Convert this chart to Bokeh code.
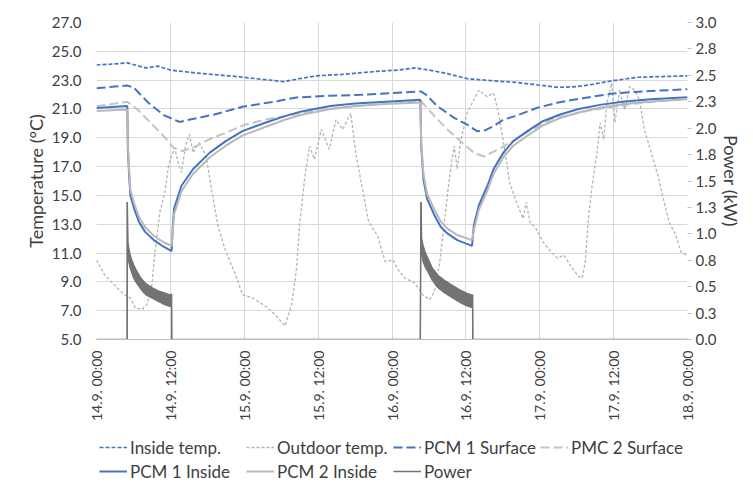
import math
from bokeh.plotting import figure
from bokeh.layouts import column
from bokeh.models import (Range1d, LinearAxis, FixedTicker, Legend, LegendItem,
                          PrintfTickFormatter)
from bokeh.embed import file_html
from bokeh.resources import INLINE

# ---------------- data (hours since 14.9. 00:00) ----------------
x_ticks = [0, 12, 24, 36, 48, 60, 72, 84, 96]
x_tick_labels = ["14.9. 00:00", "14.9. 12:00", "15.9. 00:00", "15.9. 12:00",
                 "16.9. 00:00", "16.9. 12:00", "17.9. 00:00", "17.9. 12:00",
                 "18.9. 00:00"]
temp_ticks = [5, 7, 9, 11, 13, 15, 17, 19, 21, 23, 25, 27]
power_ticks = [0, 0.25, 0.5, 0.75, 1.0, 1.25, 1.5, 1.75, 2.0, 2.25, 2.5, 2.75, 3.0]

series_names = ["Inside temp.", "Outdoor temp.", "PCM 1 Surface", "PMC 2 Surface",
                "PCM 1 Inside", "PCM 2 Inside", "Power"]

inside_h = [0, 2, 5, 8, 10, 12, 16, 20, 23, 27, 30.4, 33, 35.7, 40, 45.3, 49,
            51.7, 54, 57, 60.2, 64.5, 68, 71, 75, 78, 80, 83.7, 88, 92, 96]
inside_t = [24.05, 24.1, 24.2, 23.85, 23.97, 23.7, 23.5, 23.35, 23.24, 23.05, 22.9,
            23.1, 23.3, 23.4, 23.6, 23.7, 23.85, 23.7, 23.45, 23.1, 22.95, 22.85,
            22.7, 22.5, 22.55, 22.67, 22.95, 23.2, 23.25, 23.3]

outdoor_h = [0, 1.3, 2.9, 4.5, 5.5, 6.3, 7.4, 8.2, 9.0, 9.5, 10.3, 11.1, 11.7, 12.2,
             12.7, 13.3, 13.8, 14.5, 15.1, 15.7, 16.7, 17.8, 18.6, 19.7, 21, 22.6,
             23.7, 25.3, 27.4, 29, 30.6, 31.7, 32.5, 33, 33.8, 34.6, 35.4, 36.5,
             37.8, 38.9, 40, 41.3, 42.1, 43.2, 44.2, 45.6, 46.9, 48.2, 49, 50.1,
             51.7, 53, 54.1, 54.9, 55.7, 56.5, 57.3, 58.1, 58.6, 59.1, 60.2, 61.3,
             62.1, 63.4, 64.5, 65.3, 66.3, 67.1, 68.2, 69.3, 69.8, 70.4, 71.4, 72.5,
             73.8, 74.9, 75.9, 77.3, 78.3, 78.9, 79.4, 79.9, 80.5, 81.3, 81.8, 82.4,
             82.9, 83.7, 84.2, 85, 85.8, 86.6, 87.4, 88.2, 89, 90.1, 91.2, 92.2, 93,
             94.1, 94.9, 96]
outdoor_t = [10.52, 9.49, 8.8, 8.11, 7.89, 7.2, 7.08, 7.43, 8.8, 11.1, 13.85, 15.2,
             17.05, 17.74, 18.3, 17.2, 16.6, 18.5, 19.23, 17.97, 18.66, 17.74, 15.67,
             12.93, 11.1, 9.49, 8.11, 7.89, 7.32, 6.74, 5.94, 7.43, 9.95, 13.0, 16.14,
             18.43, 17.5, 19.58, 18.2, 20.26, 19.58, 20.72, 17.97, 15.45, 13.16,
             12.24, 10.41, 10.52, 9.83, 9.26, 8.92, 8.11, 7.77, 8.34, 10.18, 13.16,
             16.14, 18.43, 16.83, 18.66, 20.72, 21.64, 22.3, 21.86, 22.1, 20.72, 18.2,
             15.9, 14.54, 13.39, 14.54, 13.16, 12.7, 11.79, 11.1, 10.64, 10.86, 9.95,
             9.38, 9.26, 10.41, 13.39, 15.67, 17.97, 20.04, 18.89, 21.41, 22.79,
             20.04, 22.32, 20.95, 22.55, 22.32, 21.64, 19.58, 17.97, 16.37, 14.54,
             13.16, 12.24, 11.1, 10.8]

pcm1_surf_h = [0, 3, 5, 6, 8.5, 11, 13.5, 15, 19, 23.7, 29.5, 32.5, 38, 43, 48, 52.7,
               53.5, 55.4, 58.1, 60.2, 61.8, 63, 64.5, 66.1, 68, 71.5, 75, 79, 83.5,
               88, 96]
pcm1_surf_t = [22.44, 22.55, 22.62, 22.5, 21.4, 20.55, 20.1, 20.25, 20.6, 21.15,
               21.55, 21.8, 21.92, 21.98, 22.1, 22.22, 22.0, 21.18, 20.38, 19.92,
               19.46, 19.5, 19.8, 20.26, 20.5, 21.07, 21.45, 21.75, 22.05, 22.2, 22.37]

pcm2_surf_h = [0, 5, 6.7, 8.8, 10.9, 12.5, 14, 15.7, 18.3, 21, 24.2, 27.4, 30.6, 33.3,
               38, 45, 50, 52.7, 54.9, 57, 59.1, 61.3, 62.9, 64.7, 67.7, 69.8, 74, 80,
               88, 96]
pcm2_surf_t = [21.18, 21.5, 20.95, 20.04, 19.12, 18.32, 18.08, 18.32, 18.89, 19.35,
               19.92, 20.26, 20.5, 20.72, 21.0, 21.3, 21.45, 21.55, 20.5, 19.58,
               18.77, 17.97, 17.7, 18.08, 18.77, 19.35, 20.3, 20.9, 21.4, 21.7]

pcm1_in_h = [0, 5, 5.1, 5.3, 5.5, 6.1, 6.9, 7.9, 9.3, 10.9, 12.2, 12.4, 12.6, 13.8,
             15.7, 18.4, 21, 23.7, 27.4, 30.6, 33.3, 38, 42, 47, 52.6, 52.75, 53.1,
             53.7, 54.9, 55.9, 57, 58.6, 61, 61.3, 62.1, 63.5, 64.5, 66.1, 67.7, 70,
             72.5, 75.2, 78.3, 82, 85.8, 90, 96]
pcm1_in_t = [21.07, 21.2, 18.2, 16.4, 15.0, 14.1, 13.16, 12.47, 11.9, 11.44, 11.14,
             12.93, 14.08, 15.67, 16.83, 17.97, 18.77, 19.46, 20.04, 20.5, 20.83,
             21.2, 21.38, 21.5, 21.64, 18.43, 16.14, 14.76, 13.62, 12.82, 12.36,
             11.9, 11.5, 12.93, 14.3, 15.67, 16.83, 17.97, 18.77, 19.46, 20.15, 20.6,
             21.0, 21.3, 21.52, 21.68, 21.82]

pcm2_in_h = pcm1_in_h
pcm2_in_t = [20.85, 20.97, 18.5, 16.8, 15.4, 14.45, 13.5, 12.8, 12.2, 11.75, 11.5,
             12.6, 13.7, 15.3, 16.5, 17.65, 18.45, 19.15, 19.75, 20.25, 20.6, 21.0,
             21.2, 21.35, 21.45, 18.7, 16.5, 15.1, 14.0, 13.2, 12.7, 12.25, 11.9,
             12.6, 14.0, 15.35, 16.5, 17.65, 18.45, 19.15, 19.85, 20.35, 20.75, 21.1,
             21.35, 21.52, 21.68]

power_h = [0, 4.98, 5.0, 5.1, 5.3, 5.6, 6.0, 6.5, 7.0, 7.5, 8.0, 9.0, 10.0, 11.0,
           12.0, 12.2, 12.22, 52.6, 52.7, 52.8, 53.0, 53.4, 53.8, 54.5, 55.4, 56.5,
           57.6, 59.0, 60.0, 61.0, 61.1, 61.12, 96]
power_kw_high = [0, 0, 1.30, 0.92, 0.84, 0.77, 0.71, 0.65, 0.60, 0.56, 0.53, 0.49,
                 0.46, 0.44, 0.42, 0.43, 0, 0, 1.30, 0.96, 0.90, 0.82, 0.77, 0.68,
                 0.61, 0.56, 0.52, 0.47, 0.44, 0.42, 0.42, 0, 0]
power_kw_low = [0, 0, 1.30, 0.78, 0.71, 0.65, 0.58, 0.53, 0.49, 0.45, 0.42, 0.39,
                0.36, 0.33, 0.31, 0.32, 0, 0, 1.30, 0.80, 0.74, 0.68, 0.64, 0.56,
                0.49, 0.44, 0.40, 0.35, 0.32, 0.30, 0.30, 0, 0]

series_x = [inside_h, outdoor_h, pcm1_surf_h, pcm2_surf_h, pcm1_in_h, pcm2_in_h, power_h]
series_y = [inside_t, outdoor_t, pcm1_surf_t, pcm2_surf_t, pcm1_in_t, pcm2_in_t,
            power_kw_high]

# ---------------- styles ----------------
FONT = "Lato"
TXT = "#404040"
BLUE = "#4472C4"
GRID = "#D9D9D9"
PWR = "#737373"
styles = [
    dict(line_color=BLUE, line_width=1.7, line_dash="4 2"),
    dict(line_color="#B4B4B4", line_width=1.3, line_dash="3 2"),
    dict(line_color=BLUE, line_width=2, line_dash="9 4"),
    dict(line_color="#C4C4C4", line_width=2, line_dash="9 4"),
    dict(line_color=BLUE, line_width=2),
    dict(line_color="#B8B8B8", line_width=2),
    dict(line_color=PWR, line_width=1.5),
]

p = figure(width=745, height=424, output_backend="svg", toolbar_location=None,
           x_range=Range1d(0, 96), y_range=Range1d(5, 27),
           min_border_left=96, min_border_right=48, min_border_top=22,
           min_border_bottom=82)
p.outline_line_color = None
p.background_fill_color = "white"
p.border_fill_color = "white"
p.extra_y_ranges = {"power": Range1d(0, 3)}

p.xgrid.ticker = FixedTicker(ticks=x_ticks)
p.ygrid.ticker = FixedTicker(ticks=temp_ticks)
p.grid.grid_line_color = GRID
p.grid.grid_line_width = 1

# x axis
xa = p.xaxis[0]
xa.ticker = FixedTicker(ticks=x_ticks)
xa.major_label_overrides = {t: l for t, l in zip(x_ticks, x_tick_labels)}
xa.major_label_orientation = math.pi / 2
xa.axis_line_color = "#BFBFBF"
xa.major_tick_line_color = None
xa.minor_tick_line_color = None
xa.major_tick_out = 0
xa.major_label_standoff = 11
xa.major_label_text_font = FONT
xa.major_label_text_font_size = "14px"
xa.major_label_text_color = TXT

# left axis
ya = p.yaxis[0]
ya.ticker = FixedTicker(ticks=temp_ticks)
ya.formatter = PrintfTickFormatter(format="%.1f")
ya.axis_label = "Temperature (°C)"
ya.axis_line_color = None
ya.major_tick_line_color = None
ya.minor_tick_line_color = None
ya.major_tick_out = 0
ya.major_label_standoff = 15
ya.axis_label_standoff = 2
ya.major_label_text_font = FONT
ya.major_label_text_font_size = "15px"
ya.major_label_text_color = TXT
ya.axis_label_text_font = FONT
ya.axis_label_text_font_size = "18px"
ya.axis_label_text_font_style = "normal"
ya.axis_label_text_color = TXT

# right axis
ra = LinearAxis(y_range_name="power", axis_label="Power (kW)",
                ticker=FixedTicker(ticks=power_ticks),
                formatter=PrintfTickFormatter(format="%.1f"))
ra.axis_line_color = None
ra.major_tick_line_color = "#BFBFBF"
ra.major_tick_in = 0
ra.major_tick_out = 4
ra.minor_tick_line_color = None
ra.major_label_standoff = 4
ra.axis_label_standoff = 1
ra.major_label_text_font = FONT
ra.major_label_text_font_size = "15px"
ra.major_label_text_color = TXT
ra.axis_label_text_font = FONT
ra.axis_label_text_font_size = "18px"
ra.axis_label_text_font_style = "normal"
ra.axis_label_text_color = TXT
p.add_layout(ra, "right")

# ---------------- series ----------------
p.line(inside_h, inside_t, **styles[0])
p.line(outdoor_h, outdoor_t, **styles[1])
p.line(pcm1_surf_h, pcm1_surf_t, **styles[2])
p.line(pcm2_surf_h, pcm2_surf_t, **styles[3])
p.line(pcm1_in_h, pcm1_in_t, **styles[4])
p.line(pcm2_in_h, pcm2_in_t, **styles[5])
p.varea(x=power_h, y1=power_kw_low, y2=power_kw_high, fill_color=PWR,
        y_range_name="power")
p.line(power_h, power_kw_high, y_range_name="power", **styles[6])
p.line(power_h, power_kw_low, line_color=PWR, line_width=1.0, y_range_name="power")

# ---------------- legend strip below the chart ----------------
# (series drawn again here only as legend handles; the ranges keep them out of view)
lg = figure(width=745, height=58, output_backend="svg", toolbar_location=None,
            x_range=Range1d(-200, -100), y_range=Range1d(-200, -100),
            x_axis_location=None, y_axis_location=None, min_border=0)
lg.outline_line_color = None
lg.grid.visible = False
lg.background_fill_color = "white"
lg.border_fill_color = "white"
items = []
for name, xs, ys, st in zip(series_names, series_x, series_y, styles):
    r = lg.line(xs, ys, **st)
    items.append(LegendItem(label=name, renderers=[r]))
legend = Legend(items=items, ncols=4, orientation="horizontal", location=(3, 0),
                glyph_width=28, glyph_height=22, label_height=22, label_width=114,
                label_standoff=3, spacing=2, padding=0, margin=0,
                border_line_color=None, background_fill_alpha=0)
legend.label_text_font = FONT
legend.label_text_font_size = "17px"
legend.label_text_color = TXT
lg.add_layout(legend, "center")

layout = column(p, lg, spacing=0)
open("out.html", "w").write(file_html(layout, INLINE))
